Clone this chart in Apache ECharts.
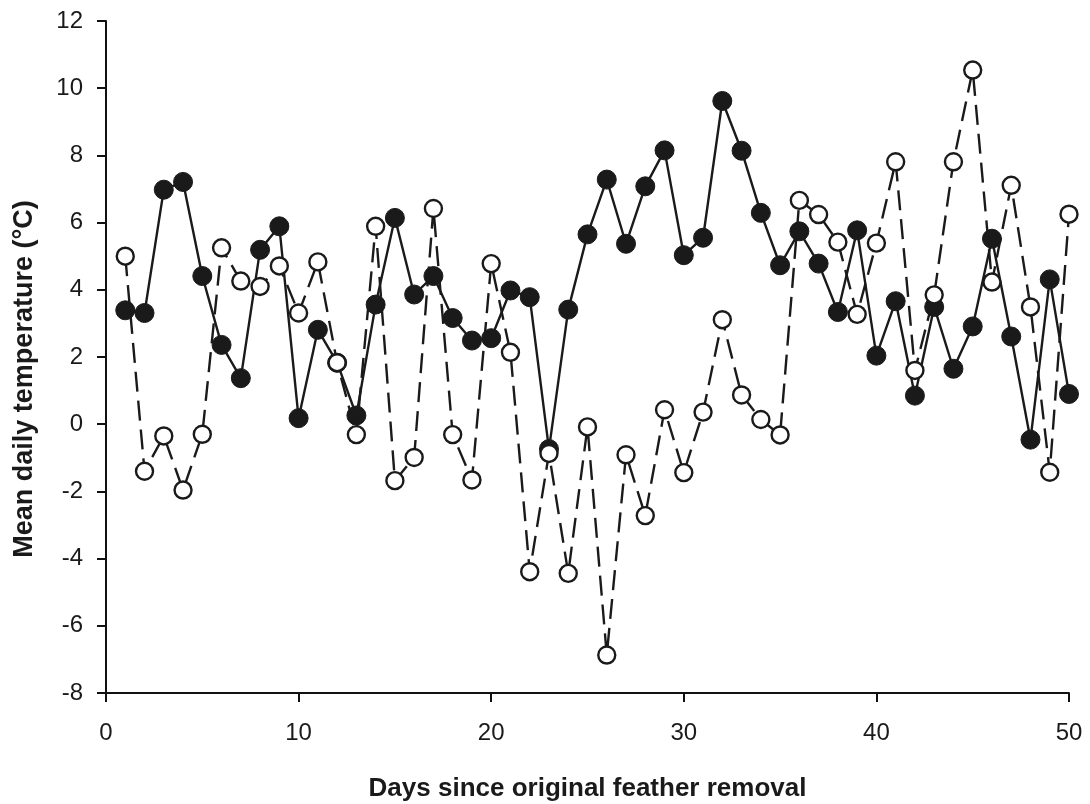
<!DOCTYPE html>
<html>
<head>
<meta charset="utf-8">
<script src="https://cdn.jsdelivr.net/npm/echarts@6/dist/echarts.min.js"></script>
<style>
html,body{margin:0;padding:0;background:#fff;}
#chart{width:1090px;height:804px;}
</style>
</head>
<body>
<div id="chart"></div>
<script>
const days = [1,2,3,4,5,6,7,8,9,10,11,12,13,14,15,16,17,18,19,20,21,22,23,24,25,26,27,28,29,30,31,32,33,34,35,36,37,38,39,40,41,42,43,44,45,46,47,48,49,50];
const filledValues = [3.39,3.31,6.98,7.21,4.41,2.36,1.37,5.19,5.89,0.18,2.81,1.83,0.26,3.56,6.14,3.86,4.41,3.16,2.49,2.56,3.98,3.78,-0.74,3.41,5.65,7.28,5.37,7.08,8.15,5.03,5.55,9.62,8.14,6.29,4.73,5.74,4.78,3.34,5.77,2.04,3.66,0.85,3.49,1.65,2.91,5.52,2.61,-0.46,4.31,0.90];
const openValues = [5.0,-1.40,-0.35,-1.96,-0.30,5.25,4.26,4.10,4.71,3.31,4.83,1.83,-0.31,5.89,-1.68,-0.99,6.42,-0.31,-1.66,4.78,2.14,-4.39,-0.87,-4.44,-0.08,-6.87,-0.91,-2.72,0.43,-1.44,0.36,3.11,0.87,0.14,-0.32,6.66,6.24,5.42,3.27,5.39,7.81,1.60,3.85,7.81,10.54,4.23,7.11,3.49,-1.43,6.25];
const xTicks = [0,10,20,30,40,50];
const yTicks = [-8,-6,-4,-2,0,2,4,6,8,10,12];
const xTitle = 'Days since original feather removal';
const yTitle = 'Mean daily temperature (\u00B0C)';

const chart = echarts.init(document.getElementById('chart'), null, {renderer:'canvas'});
const axisLine = {show:true, onZero:false, lineStyle:{color:'#111', width:2}};
const font = '"Liberation Sans", Arial, sans-serif';
chart.setOption({
  backgroundColor:'#fff',
  animation:false,
  grid:{left:106, right:21, top:21, bottom:111, containLabel:false, outerBoundsMode:'none'},
  xAxis:{
    type:'value', min:xTicks[0], max:xTicks[xTicks.length-1], interval:10,
    axisLine:axisLine,
    axisTick:{show:true, inside:false, length:9, lineStyle:{color:'#111', width:2}},
    splitLine:{show:false},
    axisLabel:{color:'#1a1a1a', fontSize:24, fontFamily:font, margin:28},
    name:xTitle, nameLocation:'middle', nameGap:83,
    nameTextStyle:{color:'#1a1a1a', fontSize:26, fontWeight:'bold', fontFamily:font}
  },
  yAxis:{
    type:'value', min:yTicks[0], max:yTicks[yTicks.length-1], interval:2,
    axisLine:axisLine,
    axisTick:{show:true, inside:false, length:9, lineStyle:{color:'#111', width:2}},
    splitLine:{show:false},
    axisLabel:{color:'#1a1a1a', fontSize:24, fontFamily:font, margin:23},
    name:yTitle, nameLocation:'middle', nameGap:68, nameRotate:90,
    nameTextStyle:{color:'#1a1a1a', fontSize:27, fontWeight:'bold', fontFamily:font, padding:[0,44,0,0]}
  },
  series:[
    {
      type:'line', name:'filled',
      data:days.map((d,i)=>[d, filledValues[i]]),
      symbol:'circle', symbolSize:19,
      itemStyle:{color:'#1a1a1a', borderColor:'#1a1a1a', borderWidth:1},
      lineStyle:{color:'#1a1a1a', width:2.4, type:'solid'},
      z:2
    },
    {
      type:'line', name:'open',
      data:days.map((d,i)=>[d, openValues[i]]),
      symbol:'circle', symbolSize:17,
      itemStyle:{color:'#fff', borderColor:'#1a1a1a', borderWidth:2.4},
      lineStyle:{color:'#1a1a1a', width:2.4, type:[20,9]},
      z:3
    }
  ]
});
</script>
</body>
</html>
